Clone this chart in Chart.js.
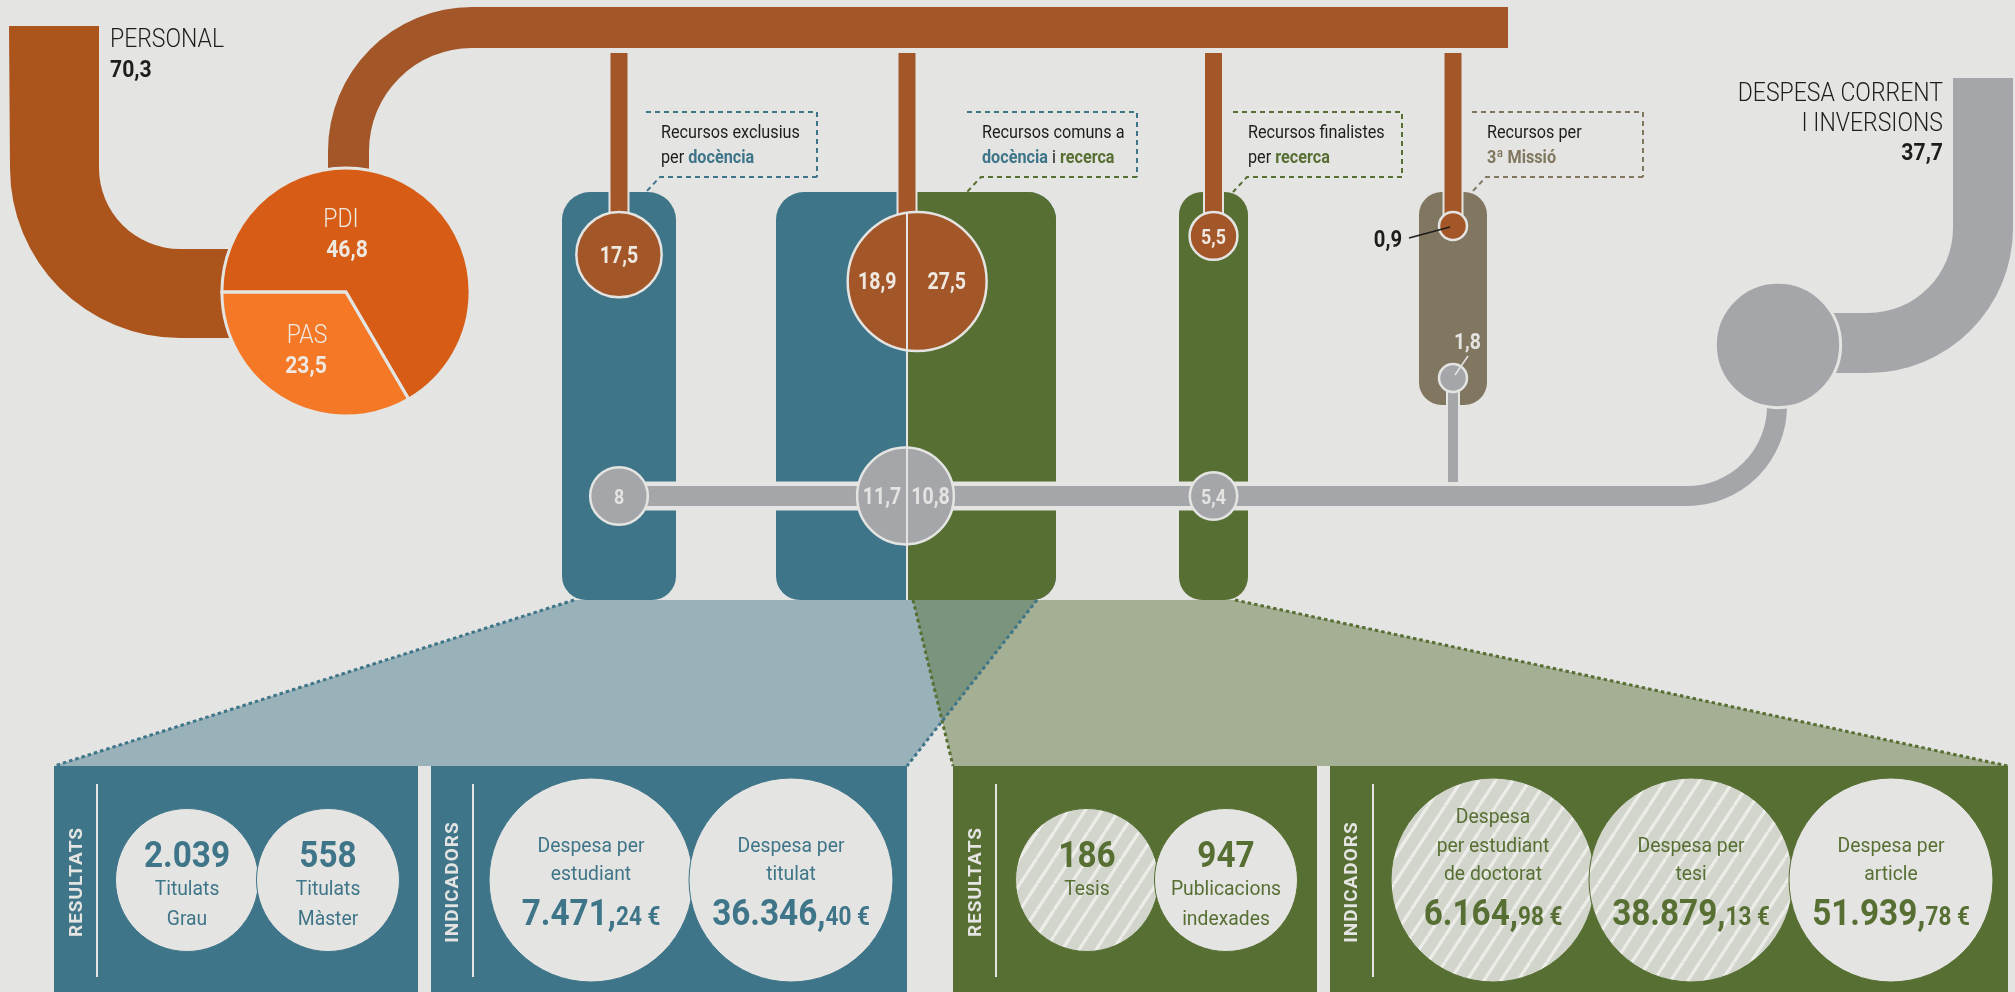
<!DOCTYPE html>
<html lang="ca">
<head>
<meta charset="utf-8">
<title>Personal i despesa corrent per destí</title>
<script src="https://cdn.jsdelivr.net/npm/chart.js@4.4.1/dist/chart.umd.min.js"></script>
<style>
  html, body { margin: 0; padding: 0; background: #e4e4e2; overflow: hidden; }
  canvas { display: block; }
</style>
</head>
<body>
<canvas id="infografia" width="2015" height="992"></canvas>
<script>
// ---- dades (milions d'euros i indicadors) ----
const personalLabels = ['PDI', 'PAS'];
const personalValues = [46.8, 23.5];
const personalTotal = 70.3;
const despesaTotal = 37.7;

// per destí: docència / comuns (docència | recerca) / recerca / 3a missió
const personalPerDesti = [[17.5], [18.9, 27.5], [5.5], [0.9]];
const despesaPerDesti = [[8], [11.7, 10.8], [5.4], [1.8]];

const resultatsDocenciaLabels = [['Titulats', 'Grau'], ['Titulats', 'Màster']];
const resultatsDocencia = [2039, 558];
const indicadorsDocenciaLabels = [['Despesa per', 'estudiant'], ['Despesa per', 'titulat']];
const indicadorsDocencia = [7471.24, 36346.40];
const resultatsRecercaLabels = [['Tesis'], ['Publicacions', 'indexades']];
const resultatsRecerca = [186, 947];
const indicadorsRecercaLabels = [['Despesa', 'per estudiant', 'de doctorat'], ['Despesa per', 'tesi'], ['Despesa per', 'article']];
const indicadorsRecerca = [6164.98, 38879.13, 51939.78];

// ---- estil i maquetació ----
const W = 2015, H = 992;
const BG = '#e4e4e2';
const C = {
  brownDark: '#ab541c', brown: '#a35628', pdi: '#d75d16', pas: '#f47825',
  blue: '#3f7589', green: '#576f33', taupe: '#817660', gray: '#a5a6a9',
  ink: '#1d1d1b', light: '#efe8e0'
};
const FONT = 'Roboto, "Liberation Sans", sans-serif';

const columns = [
  { x0: 562, x1: 676, bottom: 600, fill: C.blue },
  { x0: 776, x1: 1056, split: 907, bottom: 600, fill: C.blue, fill2: C.green },
  { x0: 1179, x1: 1248, bottom: 600, fill: C.green },
  { x0: 1419, x1: 1487, bottom: 405, fill: C.taupe }
];
const COL_TOP = 192, DROP_TOP = 52, CIRCLE_TOP = 212, LINE_Y = 496;
const grayRowY = [LINE_Y, LINE_Y, LINE_Y, 378];
const PIE = { x: 346, y: 292 };
const TOTAL_POS = { x: 1778, y: 345 };
const BOX_TOP = 112, BOX_BOTTOM = 177;

const labelBoxes = [
  { x0: 646, x1: 817, dash: [C.blue, C.blue],
    lines: [[{ t: 'Recursos exclusius' }], [{ t: 'per ' }, { t: 'docència', w: 700, c: C.blue }]] },
  { x0: 967, x1: 1137, dash: [C.blue, C.green],
    lines: [[{ t: 'Recursos comuns a' }], [{ t: 'docència', w: 700, c: C.blue }, { t: ' i ' }, { t: 'recerca', w: 700, c: C.green }]] },
  { x0: 1233, x1: 1402, dash: [C.green, C.green],
    lines: [[{ t: 'Recursos finalistes' }], [{ t: 'per ' }, { t: 'recerca', w: 700, c: C.green }]] },
  { x0: 1472, x1: 1643, dash: [C.taupe, C.taupe],
    lines: [[{ t: 'Recursos per' }], [{ t: '3ª Missió', w: 700, c: C.taupe }]] }
];

const panels = [
  { x0: 54, x1: 418, fill: C.blue, title: 'RESULTATS', titleX: 77, lineX: 97 },
  { x0: 431, x1: 907, fill: C.blue, title: 'INDICADORS', titleX: 453, lineX: 473 },
  { x0: 953, x1: 1317, fill: C.green, title: 'RESULTATS', titleX: 976, lineX: 996 },
  { x0: 1330, x1: 2008, fill: C.green, title: 'INDICADORS', titleX: 1352, lineX: 1373 }
];
const PANEL_TOP = 766, BOTTOM_CY = 880;

const rTop = v => Math.max(14, 10.2 * Math.sqrt(v));
const rPie = v => 14.8 * Math.sqrt(v);
const sum = a => a.reduce((s, v) => s + v, 0);
const anchorX = col => col.split !== undefined ? col.split : (col.x0 + col.x1) / 2;

// the part left of the split line holds 'share' of the circle's area
function splitCenter(split, r, share) {
  let lo = -1, hi = 1;
  for (let i = 0; i < 40; i++) {
    const u = (lo + hi) / 2;
    const f = (Math.PI / 2 + Math.asin(u) + u * Math.sqrt(1 - u * u)) / Math.PI;
    if (f < share) lo = u; else hi = u;
  }
  return split - ((lo + hi) / 2) * r;
}

function circlePoints(values, yOf) {
  return values.map((vals, i) => {
    const col = columns[i], total = sum(vals), r = rTop(total);
    const x = vals.length > 1 ? splitCenter(col.split, r, vals[0] / total) : anchorX(col);
    return { x, y: yOf(i, r), r, vals, col: i };
  });
}
const brownPts = circlePoints(personalPerDesti, (i, r) => CIRCLE_TOP + r);
const grayPts = circlePoints(despesaPerDesti, i => grayRowY[i]);

function hatchPattern(base, stripe) {
  const a = 17, b = 26;
  const t = document.createElement('canvas');
  t.width = a; t.height = b;
  const g = t.getContext('2d');
  g.fillStyle = base; g.fillRect(0, 0, a, b);
  g.strokeStyle = stripe; g.lineWidth = 3.2;
  for (let k = -1; k <= 1; k++) {
    g.beginPath(); g.moveTo(k * a, b); g.lineTo(k * a + a, 0); g.stroke();
  }
  return g.createPattern(t, 'repeat');
}
const HATCH = hatchPattern('#d2d5cb', '#ecece8');

const bottomGroups = [
  { kind: 'res', values: resultatsDocencia, labels: resultatsDocenciaLabels, xs: [187, 328], r: 71.5, color: C.blue, hatch: [false, false] },
  { kind: 'ind', values: indicadorsDocencia, labels: indicadorsDocenciaLabels, xs: [591, 791], r: 102, color: C.blue, hatch: [false, false] },
  { kind: 'res', values: resultatsRecerca, labels: resultatsRecercaLabels, xs: [1087, 1226], r: 71.5, color: C.green, hatch: [true, false] },
  { kind: 'ind', values: indicadorsRecerca, labels: indicadorsRecercaLabels, xs: [1493, 1691, 1891], r: 102, color: C.green, hatch: [true, true, false] }
];

// ---- format català ----
const grp = n => String(n).replace(/\B(?=(\d{3})+(?!\d))/g, '.');
const dec = v => String(v).replace('.', ',');
function euroParts(v) {
  const [i, d] = v.toFixed(2).split('.');
  return [grp(i) + ',', d + ' €'];
}

// ---- text helpers ----
const fontOf = p => `${p.w || 400} ${p.size}px ${FONT}`;
function runs(ctx, parts, x, y, align, sx) {
  const widths = parts.map(p => { ctx.font = fontOf(p); return ctx.measureText(p.t).width * sx; });
  const total = sum(widths);
  let cx = align === 'center' ? x - total / 2 : align === 'right' ? x - total : x;
  parts.forEach((p, i) => {
    ctx.save();
    ctx.font = fontOf(p);
    ctx.fillStyle = p.c;
    ctx.textAlign = 'left';
    ctx.textBaseline = 'alphabetic';
    ctx.translate(cx, y);
    ctx.scale(sx, 1);
    ctx.fillText(p.t, 0, 0);
    ctx.restore();
    cx += widths[i];
  });
}
function txt(ctx, t, x, y, size, w, c, align, sx) {
  runs(ctx, [{ t, size, w, c }], x, y, align || 'left', sx || 0.9);
}

function colPath(ctx, x0, x1, top, bottom, rt, rb) {
  ctx.beginPath();
  ctx.moveTo(x0, top + rt);
  ctx.arcTo(x0, top, x0 + rt, top, rt);
  ctx.lineTo(x1 - rt, top);
  ctx.arcTo(x1, top, x1, top + rt, rt);
  ctx.lineTo(x1, bottom - rb);
  ctx.arcTo(x1, bottom, x1 - rb, bottom, rb);
  ctx.lineTo(x0 + rb, bottom);
  ctx.arcTo(x0, bottom, x0, bottom - rb, rb);
  ctx.closePath();
}
function poly(ctx, pts) {
  ctx.beginPath();
  pts.forEach((p, i) => i ? ctx.lineTo(p[0], p[1]) : ctx.moveTo(p[0], p[1]));
  ctx.closePath();
}
function dotted(ctx, a, b, color) {
  ctx.save();
  ctx.strokeStyle = color; ctx.lineWidth = 3; ctx.setLineDash([3.5, 3]);
  ctx.beginPath(); ctx.moveTo(a[0], a[1]); ctx.lineTo(b[0], b[1]); ctx.stroke();
  ctx.restore();
}

const DS_BOTTOM = 0, DS_TOTAL = 4, DS_GRAY = 5, DS_BROWN = 6;

const infografia = {
  id: 'infografia',
  beforeDraw(chart) {
    const ctx = chart.ctx;
    ctx.save(); ctx.fillStyle = BG; ctx.fillRect(0, 0, W, H); ctx.restore();
  },
  beforeDatasetsDraw(chart) {
    const ctx = chart.ctx;
    const X = v => chart.scales.x.getPixelForValue(v);
    const Y = v => chart.scales.y.getPixelForValue(v);
    ctx.save();

    // funnels towards the bottom panels
    const blueTrap = [[X(574), Y(600)], [X(1037), Y(600)], [X(907), Y(PANEL_TOP)], [X(54), Y(PANEL_TOP)]];
    const greenTrap = [[X(913), Y(600)], [X(1235), Y(600)], [X(2008), Y(PANEL_TOP)], [X(953), Y(PANEL_TOP)]];
    ctx.globalAlpha = 0.45;
    ctx.fillStyle = C.blue; poly(ctx, blueTrap); ctx.fill();
    ctx.fillStyle = C.green; poly(ctx, greenTrap); ctx.fill();
    ctx.globalAlpha = 1;
    dotted(ctx, blueTrap[0], blueTrap[3], C.blue);
    dotted(ctx, greenTrap[0], greenTrap[3], C.green);
    dotted(ctx, blueTrap[1], blueTrap[2], C.blue);
    dotted(ctx, greenTrap[1], greenTrap[2], C.green);

    // bottom panels
    panels.forEach(p => {
      ctx.fillStyle = p.fill;
      ctx.fillRect(X(p.x0), Y(PANEL_TOP), X(p.x1) - X(p.x0), H - Y(PANEL_TOP));
      ctx.fillStyle = BG;
      ctx.fillRect(X(p.lineX) - 1, Y(784), 2, Y(977) - Y(784));
      ctx.save();
      ctx.translate(X(p.titleX), Y(BOTTOM_CY + 2));
      ctx.rotate(-Math.PI / 2);
      ctx.font = `700 19px ${FONT}`;
      ctx.letterSpacing = '1px';
      ctx.textAlign = 'center';
      ctx.textBaseline = 'middle';
      ctx.fillStyle = BG;
      ctx.fillText(p.title, 0, 0);
      ctx.restore();
    });

    // columns
    columns.forEach(col => {
      const x0 = X(col.x0), x1 = X(col.x1), w = x1 - x0;
      const rt = Math.min(28, w / 3), rb = Math.min(24, w / 3);
      colPath(ctx, x0, x1, Y(COL_TOP), Y(col.bottom), rt, rb);
      ctx.fillStyle = col.fill; ctx.fill();
      if (col.split !== undefined) {
        ctx.save();
        ctx.clip();
        ctx.fillStyle = col.fill2;
        ctx.fillRect(X(col.split), Y(COL_TOP), x1 - X(col.split), Y(col.bottom) - Y(COL_TOP));
        ctx.restore();
        ctx.fillStyle = BG;
        ctx.fillRect(X(col.split) - 1, Y(COL_TOP), 2, Y(col.bottom) - Y(COL_TOP));
      }
    });

    // PERSONAL pipe
    ctx.fillStyle = C.brownDark;
    ctx.beginPath();
    ctx.moveTo(X(9), Y(26)); ctx.lineTo(X(99), Y(26)); ctx.lineTo(X(99), Y(168));
    ctx.arc(X(180), Y(168), 81, Math.PI, Math.PI / 2, true);
    ctx.lineTo(X(270), Y(249)); ctx.lineTo(X(270), Y(338)); ctx.lineTo(X(180), Y(338));
    ctx.arc(X(180), Y(168), 170, Math.PI / 2, Math.PI, false);
    ctx.closePath(); ctx.fill();

    // pipe from the pie to the distribution bar
    ctx.fillStyle = C.brown;
    ctx.beginPath();
    ctx.moveTo(X(328), Y(200)); ctx.lineTo(X(328), Y(151));
    ctx.arc(X(472), Y(151), 144, Math.PI, Math.PI * 1.5);
    ctx.lineTo(X(1508), Y(7)); ctx.lineTo(X(1508), Y(48)); ctx.lineTo(X(472), Y(48));
    ctx.arc(X(472), Y(151), 103, Math.PI * 1.5, Math.PI, true);
    ctx.lineTo(X(369), Y(200)); ctx.closePath(); ctx.fill();

    // drops to each destination
    brownPts.forEach(p => {
      const x = X(anchorX(columns[p.col]));
      ctx.fillStyle = C.brown;
      ctx.fillRect(x - 9.5, Y(DROP_TOP), 19, Y(p.y) - Y(DROP_TOP));
      ctx.strokeStyle = BG; ctx.lineWidth = 2;
      ctx.strokeRect(x - 9.5, Y(DROP_TOP), 19, Y(p.y) - Y(DROP_TOP));
    });

    // DESPESA CORRENT pipe
    ctx.fillStyle = C.gray;
    ctx.beginPath();
    ctx.moveTo(X(1953), Y(78)); ctx.lineTo(X(2013), Y(78)); ctx.lineTo(X(2013), Y(228));
    ctx.arc(X(1868), Y(228), 145, 0, Math.PI / 2);
    ctx.lineTo(X(1790), Y(373)); ctx.lineTo(X(1790), Y(313)); ctx.lineTo(X(1868), Y(313));
    ctx.arc(X(1868), Y(228), 85, Math.PI / 2, 0, true);
    ctx.closePath(); ctx.fill();

    // horizontal distribution line of the expenses
    const startX = X(anchorX(columns[0]));
    ctx.lineCap = 'butt';
    ctx.strokeStyle = BG; ctx.lineWidth = 29;
    ctx.beginPath(); ctx.moveTo(startX, Y(LINE_Y)); ctx.lineTo(X(1687), Y(LINE_Y)); ctx.stroke();
    ctx.strokeStyle = C.gray; ctx.lineWidth = 20;
    ctx.beginPath(); ctx.moveTo(startX, Y(LINE_Y)); ctx.lineTo(X(1687), Y(LINE_Y));
    ctx.arc(X(1687), Y(LINE_Y - 90), 90, Math.PI / 2, 0, true);
    ctx.lineTo(X(1777), Y(395));
    ctx.stroke();

    // stem of the 3a missió expense
    const m = grayPts[3];
    ctx.fillStyle = C.gray;
    ctx.fillRect(X(m.x) - 5, Y(m.y), 10, Y(482) - Y(m.y));
    ctx.strokeStyle = BG; ctx.lineWidth = 2;
    ctx.beginPath();
    ctx.moveTo(X(m.x) - 6, Y(m.y)); ctx.lineTo(X(m.x) - 6, Y(482));
    ctx.moveTo(X(m.x) + 6, Y(m.y)); ctx.lineTo(X(m.x) + 6, Y(482));
    ctx.stroke();

    // pie PDI / PAS
    const cx = X(PIE.x), cy = Y(PIE.y), r = rPie(personalTotal);
    const pasAngle = 2 * Math.PI * personalValues[1] / personalTotal;
    const slices = [
      { from: Math.PI, to: Math.PI - pasAngle + 2 * Math.PI, color: C.pdi },
      { from: Math.PI - pasAngle, to: Math.PI, color: C.pas }
    ];
    slices.forEach(s => {
      ctx.beginPath(); ctx.moveTo(cx, cy); ctx.arc(cx, cy, r, s.from, s.to); ctx.closePath();
      ctx.fillStyle = s.color; ctx.fill();
    });
    ctx.strokeStyle = BG; ctx.lineWidth = 3; ctx.lineJoin = 'miter';
    slices.forEach(s => {
      ctx.beginPath(); ctx.moveTo(cx, cy); ctx.arc(cx, cy, r, s.from, s.to); ctx.closePath();
      ctx.stroke();
    });
    ctx.restore();
  },
  afterDatasetsDraw(chart) {
    const ctx = chart.ctx;
    const X = v => chart.scales.x.getPixelForValue(v);
    const Y = v => chart.scales.y.getPixelForValue(v);
    ctx.save();

    // split lines and values inside the destination circles
    const valueTexts = (meta, pts, color, outside) => {
      meta.data.forEach((el, i) => {
        const p = pts[i];
        if (p.vals.length > 1) {
          const split = X(columns[p.col].split);
          const h = Math.sqrt(p.r * p.r - (split - el.x) * (split - el.x));
          ctx.fillStyle = BG;
          ctx.fillRect(split - 1, el.y - h, 2, 2 * h);
          txt(ctx, dec(p.vals[0]), (el.x - p.r + split) / 2, el.y + 8, 23, 700, color, 'center', 0.85);
          txt(ctx, dec(p.vals[1]), (split + el.x + p.r) / 2, el.y + 8, 23, 700, color, 'center', 0.85);
        } else if (p.r >= 20) {
          txt(ctx, dec(p.vals[0]), el.x, el.y + 8, p.r > 30 ? 23 : 21, 700, color, 'center', 0.85);
        } else {
          outside(el, p);
        }
      });
    };
    valueTexts(chart.getDatasetMeta(DS_BROWN), brownPts, C.light, (el, p) => {
      txt(ctx, dec(p.vals[0]), el.x - 51, el.y + 21, 23, 700, C.ink, 'right', 0.88);
      ctx.strokeStyle = C.ink; ctx.lineWidth = 1.5;
      ctx.beginPath(); ctx.moveTo(el.x - 44, el.y + 12); ctx.lineTo(el.x - 3, el.y + 1); ctx.stroke();
    });
    valueTexts(chart.getDatasetMeta(DS_GRAY), grayPts, BG, (el, p) => {
      txt(ctx, dec(p.vals[0]), el.x + 1, el.y - 29, 22, 700, BG, 'left', 0.88);
      ctx.strokeStyle = BG; ctx.lineWidth = 1.5;
      ctx.beginPath(); ctx.moveTo(el.x + 15, el.y - 22); ctx.lineTo(el.x + 2, el.y - 3); ctx.stroke();
    });

    // pie labels
    const cx = X(PIE.x), cy = Y(PIE.y);
    txt(ctx, personalLabels[0], cx - 5, cy - 65, 25, 300, C.light, 'center', 0.92);
    txt(ctx, dec(personalValues[0]), cx + 1, cy - 35, 24, 700, C.light, 'center', 0.88);
    txt(ctx, personalLabels[1], cx - 39, cy + 51, 25, 300, C.light, 'center', 0.92);
    txt(ctx, dec(personalValues[1]), cx - 40, cy + 81, 24, 700, C.light, 'center', 0.88);

    // headings
    txt(ctx, 'PERSONAL', X(110), Y(47), 25, 300, C.ink, 'left', 0.92);
    txt(ctx, dec(personalTotal), X(110), Y(77), 23, 700, C.ink, 'left', 0.92);
    txt(ctx, 'DESPESA CORRENT', X(1943), Y(101), 25, 300, C.ink, 'right', 0.92);
    txt(ctx, 'I INVERSIONS', X(1943), Y(131), 25, 300, C.ink, 'right', 0.92);
    txt(ctx, dec(despesaTotal), X(1943), Y(160), 23, 700, C.ink, 'right', 0.92);

    // destination labels in dashed boxes
    labelBoxes.forEach(b => {
      ctx.save();
      ctx.lineWidth = 2; ctx.setLineDash([5, 4]);
      ctx.strokeStyle = b.dash[0];
      ctx.beginPath();
      ctx.moveTo(X(b.x0), Y(BOX_TOP)); ctx.lineTo(X(b.x1), Y(BOX_TOP)); ctx.lineTo(X(b.x1), Y(BOX_BOTTOM));
      ctx.stroke();
      ctx.strokeStyle = b.dash[1];
      ctx.beginPath();
      ctx.moveTo(X(b.x1), Y(BOX_BOTTOM)); ctx.lineTo(X(b.x0 + 14), Y(BOX_BOTTOM)); ctx.lineTo(X(b.x0), Y(COL_TOP));
      ctx.stroke();
      ctx.restore();
      b.lines.forEach((line, k) => {
        runs(ctx, line.map(p => ({ t: p.t, size: 18, w: p.w || 400, c: p.c || C.ink })),
          X(b.x0 + 15), Y(138 + 25 * k), 'left', 0.9);
      });
    });

    // bottom circles: results and indicators
    bottomGroups.forEach((g, gi) => {
      const meta = chart.getDatasetMeta(DS_BOTTOM + gi);
      meta.data.forEach((el, j) => {
        const lines = g.labels[j];
        if (g.kind === 'res') {
          txt(ctx, grp(g.values[j]), el.x, el.y - 13, 37, 700, g.color, 'center', 0.9);
          lines.forEach((l, k) => txt(ctx, l, el.x, el.y + 15 + 30 * k, 21, 400, g.color, 'center', 0.92));
        } else {
          const n = lines.length;
          lines.forEach((l, k) => txt(ctx, l, el.x, el.y - 28.5 * (n - 1 - k), 21, 400, g.color, 'center', 0.92));
          const [big, small] = euroParts(g.values[j]);
          runs(ctx, [{ t: big, size: 37, w: 700, c: g.color }, { t: small, size: 25, w: 700, c: g.color }],
            el.x, el.y + 45, 'center', 0.9);
        }
      });
    });
    ctx.restore();
  }
};

new Chart(document.getElementById('infografia'), {
  type: 'bubble',
  data: {
    datasets: [
      ...bottomGroups.map(g => ({
        label: g.kind,
        data: g.values.map((v, j) => ({ x: g.xs[j], y: BOTTOM_CY, r: g.r, v })),
        backgroundColor: g.hatch.map(h => h ? HATCH : BG),
        borderColor: g.color,
        borderWidth: 1
      })),
      {
        label: 'Despesa corrent i inversions',
        data: [{ x: TOTAL_POS.x, y: TOTAL_POS.y, r: rTop(despesaTotal) }],
        backgroundColor: C.gray, borderColor: BG, borderWidth: 3
      },
      {
        label: 'Despesa per destí',
        data: grayPts,
        backgroundColor: C.gray, borderColor: BG, borderWidth: 2.5
      },
      {
        label: 'Personal per destí',
        data: brownPts,
        backgroundColor: C.brown, borderColor: BG, borderWidth: 2.5
      }
    ]
  },
  options: {
    responsive: false,
    animation: false,
    events: [],
    layout: { padding: 0, autoPadding: false },
    plugins: { legend: { display: false }, tooltip: { enabled: false } },
    scales: {
      x: { type: 'linear', min: 0, max: W, display: false },
      y: { type: 'linear', min: 0, max: H, reverse: true, display: false }
    }
  },
  plugins: [infografia]
});
</script>
</body>
</html>
